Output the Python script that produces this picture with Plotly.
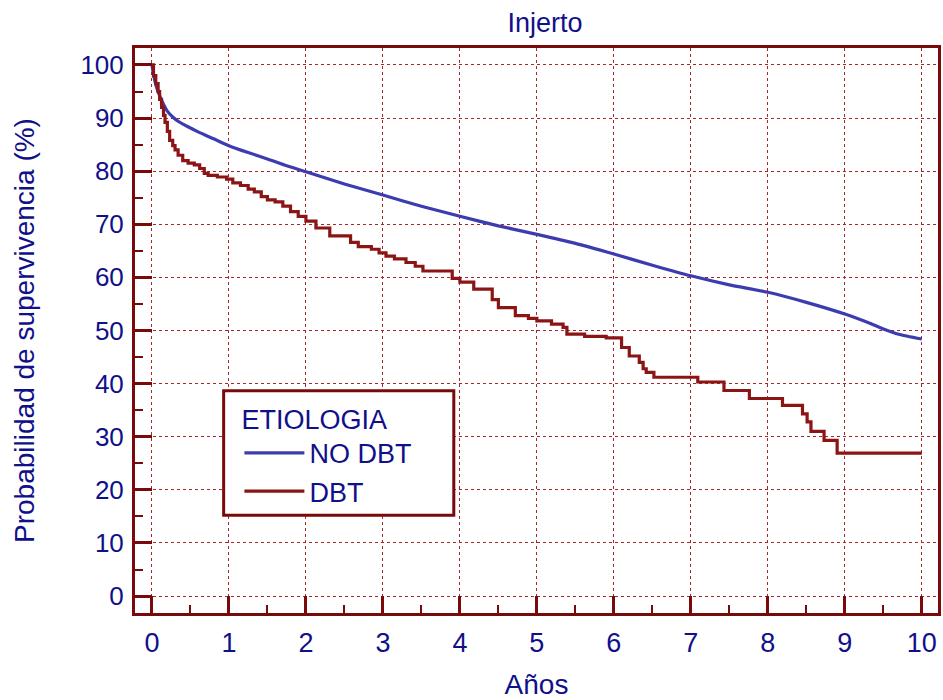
import plotly.graph_objects as go

# ---- data ----
no_dbt_t = [0, 0.03, 0.06, 0.1, 0.15, 0.2, 0.27, 0.35, 0.45, 0.6, 0.8, 1.0, 1.25, 1.5, 1.75,
            2.0, 2.5, 3.0, 3.5, 4.0, 4.5, 5.0, 5.5, 6.0, 6.5, 7.0, 7.5, 8.0, 8.5, 9.0, 9.3,
            9.5, 9.7, 10.0]
no_dbt_s = [100, 97.5, 95.8, 94.2, 92.6, 91.3, 90.2, 89.3, 88.5, 87.4, 86.1, 84.8, 83.5, 82.3, 81,
            79.9, 77.6, 75.5, 73.4, 71.5, 69.7, 68.1, 66.4, 64.4, 62.3, 60.3, 58.6, 57.2,
            55.3, 53.1, 51.5, 50.3, 49.3, 48.4]

dbt_t = [0, 0.02, 0.05, 0.08, 0.1, 0.125, 0.15, 0.17, 0.2, 0.23, 0.27, 0.3, 0.34, 0.4,
         0.47, 0.55, 0.62, 0.68, 0.73, 0.85, 0.97, 1.05, 1.15, 1.25, 1.33, 1.42, 1.5, 1.6,
         1.7, 1.8, 1.9, 2.0, 2.13, 2.31, 2.58, 2.68, 2.85, 2.95, 3.04, 3.15, 3.3, 3.42,
         3.52, 3.9, 4.0, 4.18, 4.42, 4.5, 4.72, 4.89, 5.0, 5.19, 5.34, 5.39, 5.62, 5.9,
         6.1, 6.2, 6.33, 6.38, 6.42, 6.52, 7.09, 7.43, 7.76, 8.19, 8.45, 8.51, 8.56,
         8.73, 8.9, 10.0]
dbt_s = [100, 98, 96.5, 95, 93.5, 92, 90.5, 89.2, 87.5, 85.8, 84.8, 84, 83, 82, 81.5,
         81.2, 80.5, 79.6, 79.2, 78.9, 78.5, 77.8, 77.3, 76.6, 76.1, 75.2, 74.6, 74.2,
         73.4, 72.4, 71.5, 70.6, 69.3, 67.8, 66.6, 65.8, 65.3, 64.6, 64.0, 63.5, 62.8,
         62.1, 61.2, 59.8, 59.1, 57.8, 55.8, 54.3, 52.8, 52.3, 51.8, 51.2, 50.6, 49.3,
         48.9, 48.6, 46.8, 45.2, 44.0, 42.8, 42.1, 41.2, 40.3, 38.7, 37.2, 35.9, 34.3,
         32.8, 31.0, 29.3, 26.9, 26.9]

x_ticks = list(range(0, 11))
y_ticks = list(range(0, 101, 10))

NAVY = "#10108A"
MAROON = "#7A0A0A"
GRID = "#A52828"
BLUE = "#3C3CB0"
RED = "#8B1414"
FONT = "Liberation Sans, Arial, sans-serif"

fig = go.Figure()
fig.add_trace(go.Scatter(x=no_dbt_t, y=no_dbt_s, mode="lines", name="NO DBT",
                         line=dict(color=BLUE, width=3.2, shape="spline", smoothing=0.6)))
fig.add_trace(go.Scatter(x=dbt_t, y=dbt_s, mode="lines", name="DBT",
                         line=dict(color=RED, width=3.2, shape="hv")))

axis_common = dict(
    showline=True, mirror=True, linecolor=MAROON, linewidth=3,
    showgrid=True, gridcolor=GRID, gridwidth=1, griddash="dot",
    zeroline=False, ticks="inside", ticklen=17, tickwidth=3, tickcolor=MAROON,
)

fig.update_xaxes(
    **axis_common, range=[-0.22, 10.21], tickmode="array", tickvals=x_ticks,
    ticktext=[str(v) for v in x_ticks],
    tickfont=dict(family=FONT, size=27, color=NAVY),
    minor=dict(dtick=0.5, tick0=0, ticks="inside", ticklen=8, tickwidth=2,
               tickcolor=MAROON, showgrid=False),
    title=dict(text="Años", font=dict(family=FONT, size=28, color=NAVY), standoff=20),
    ticklabelstandoff=4,
)
fig.update_yaxes(
    **axis_common, range=[-3.19, 103.19], tickmode="array", tickvals=y_ticks,
    ticktext=[str(v) for v in y_ticks],
    tickfont=dict(family=FONT, size=26, color=NAVY),
    minor=dict(dtick=5, tick0=0, ticks="inside", ticklen=8, tickwidth=2,
               tickcolor=MAROON, showgrid=False),
    title=dict(text="Probabilidad de supervivencia (%)",
               font=dict(family=FONT, size=28, color=NAVY), standoff=38),
    ticklabelstandoff=3,
)

fig.add_shape(type="rect", xref="paper", yref="paper",
              x0=0.1104, x1=0.397, y0=0.1728, y1=0.3933,
              line=dict(color=MAROON, width=3), fillcolor="white", layer="above")

fig.update_layout(
    width=943, height=700,
    margin=dict(l=135, r=2, t=48, b=85),
    paper_bgcolor="white", plot_bgcolor="white",
    title=dict(text="Injerto", x=545 / 943, xanchor="center",
               y=0.968, yanchor="middle",
               font=dict(family=FONT, size=27, color=NAVY)),
    legend=dict(
        x=0.13, y=0.388, xanchor="left", yanchor="top",
        bgcolor="rgba(0,0,0,0)", borderwidth=0,
        title=dict(text="ETIOLOGIA", font=dict(family=FONT, size=27, color=NAVY)),
        font=dict(family=FONT, size=27, color=NAVY),
        itemwidth=60, tracegroupgap=0,
    ),
    showlegend=True,
)

fig.write_html("out.html")
